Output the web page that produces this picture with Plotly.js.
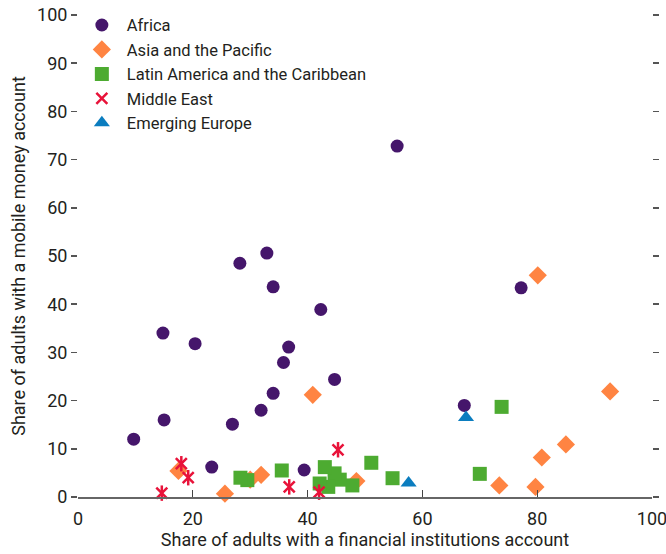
<!DOCTYPE html>
<html>
<head>
<meta charset="utf-8">
<script src="https://cdn.plot.ly/plotly-3.0.1.min.js"></script>
<style>html,body{margin:0;padding:0;background:#fff;}#chart{width:666px;height:554px;}</style>
</head>
<body>
<div id="chart"></div>
<script>
// Africa
const africaX = [55.6, 32.9, 28.2, 34.0, 42.3, 77.2, 14.8, 20.4, 36.7, 35.8, 44.7, 34.0, 31.9, 15.0, 26.9, 9.7, 67.3, 23.3, 39.4];
const africaY = [72.8, 50.6, 48.5, 43.6, 38.9, 43.4, 34.0, 31.8, 31.1, 27.9, 24.4, 21.5, 18.0, 16.0, 15.1, 12.0, 19.0, 6.2, 5.6];
// Asia and the Pacific
const asiaX = [80.1, 40.9, 92.7, 85.0, 80.8, 73.4, 79.7, 48.5, 31.9, 30.0, 25.6, 17.5];
const asiaY = [46.0, 21.2, 21.9, 10.9, 8.2, 2.4, 2.1, 3.3, 4.6, 3.6, 0.7, 5.4];
// Latin America and the Caribbean
const latamX = [73.8, 70.0, 54.8, 51.1, 47.8, 45.6, 44.7, 43.0, 43.6, 42.1, 35.5, 29.5, 28.3];
const latamY = [18.7, 4.8, 3.9, 7.1, 2.4, 3.6, 4.9, 6.2, 2.1, 2.8, 5.5, 3.5, 4.0];
// Middle East
const meX = [14.6, 18.0, 19.2, 36.8, 42.0, 45.3];
const meY = [0.8, 6.9, 4.0, 2.1, 1.0, 9.8];
// Emerging Europe
const eeX = [67.6, 57.6];
const eeY = [16.5, 2.9];

const xTicks = [0, 20, 40, 60, 80, 100];
const yTicks = [0, 10, 20, 30, 40, 50, 60, 70, 80, 90, 100];

const FONT = '"Liberation Sans Narrow", "Arial Narrow", "Roboto", sans-serif';
const TXT = '#231f20';

const traces = [
  {x: africaX, y: africaY, name: 'Africa', type: 'scatter', mode: 'markers', cliponaxis: false,
   marker: {symbol: 'circle', size: 13, color: '#45166b'}},
  {x: asiaX, y: asiaY, name: 'Asia and the Pacific', type: 'scatter', mode: 'markers', cliponaxis: false,
   marker: {symbol: 'diamond', size: 14, color: '#ff8442'}},
  {x: latamX, y: latamY, name: 'Latin America and the Caribbean', type: 'scatter', mode: 'markers', cliponaxis: false,
   marker: {symbol: 'square', size: 14, color: '#4dab31'}},
  {x: meX, y: meY, name: 'Middle East', type: 'scatter', mode: 'markers', cliponaxis: false, legendgroup: 'me',
   marker: {symbol: 'x-thin-open', size: 11, color: '#e8133a', line: {color: '#e8133a', width: 2.5}}},
  {x: meX, y: meY, name: 'Middle East', type: 'scatter', mode: 'markers', cliponaxis: false, legendgroup: 'me', showlegend: false,
   marker: {symbol: 'line-ns-open', size: 11, color: '#e8133a', line: {color: '#e8133a', width: 2.5}}},
  {x: eeX, y: eeY, name: 'Emerging Europe', type: 'scatter', mode: 'markers', cliponaxis: false,
   marker: {symbol: 'triangle-up', size: 14, color: '#0b7dbf'}}
];

const layout = {
  width: 666, height: 554,
  margin: {l: 78, r: 14, t: 15, b: 57, autoexpand: false},
  paper_bgcolor: '#fff', plot_bgcolor: '#fff',
  font: {family: FONT, color: TXT, size: 18},
  showlegend: true,
  legend: {x: -0.002, y: 1.015, xanchor: 'left', yanchor: 'top', bgcolor: 'rgba(0,0,0,0)',
           font: {family: FONT, size: 16.5, color: TXT}, itemwidth: 40, tracegroupgap: 0},
  xaxis: {range: [0, 100], tickvals: xTicks, ticks: 'inside', ticklen: 7, tickwidth: 1, tickcolor: '#444',
          showline: true, linecolor: '#666', linewidth: 2, showgrid: false, zeroline: false,
          ticklabeloverflow: 'allow', ticklabelstandoff: 4,
          tickfont: {family: FONT, size: 18, color: TXT},
          title: {text: 'Share of adults with a financial institutions account', font: {family: FONT, size: 18, color: TXT}, standoff: 6}},
  yaxis: {range: [0, 100], tickvals: yTicks, ticks: 'outside', ticklen: 6, tickwidth: 1.5, tickcolor: '#555',
          mirror: 'ticks', showline: false, showgrid: false, zeroline: false,
          tickfont: {family: FONT, size: 18, color: TXT},
          title: {text: 'Share of adults with a mobile money account', font: {family: FONT, size: 18, color: TXT}, standoff: 6}}
};

Plotly.newPlot('chart', traces, layout, {displayModeBar: false, staticPlot: true});
</script>
</body>
</html>
